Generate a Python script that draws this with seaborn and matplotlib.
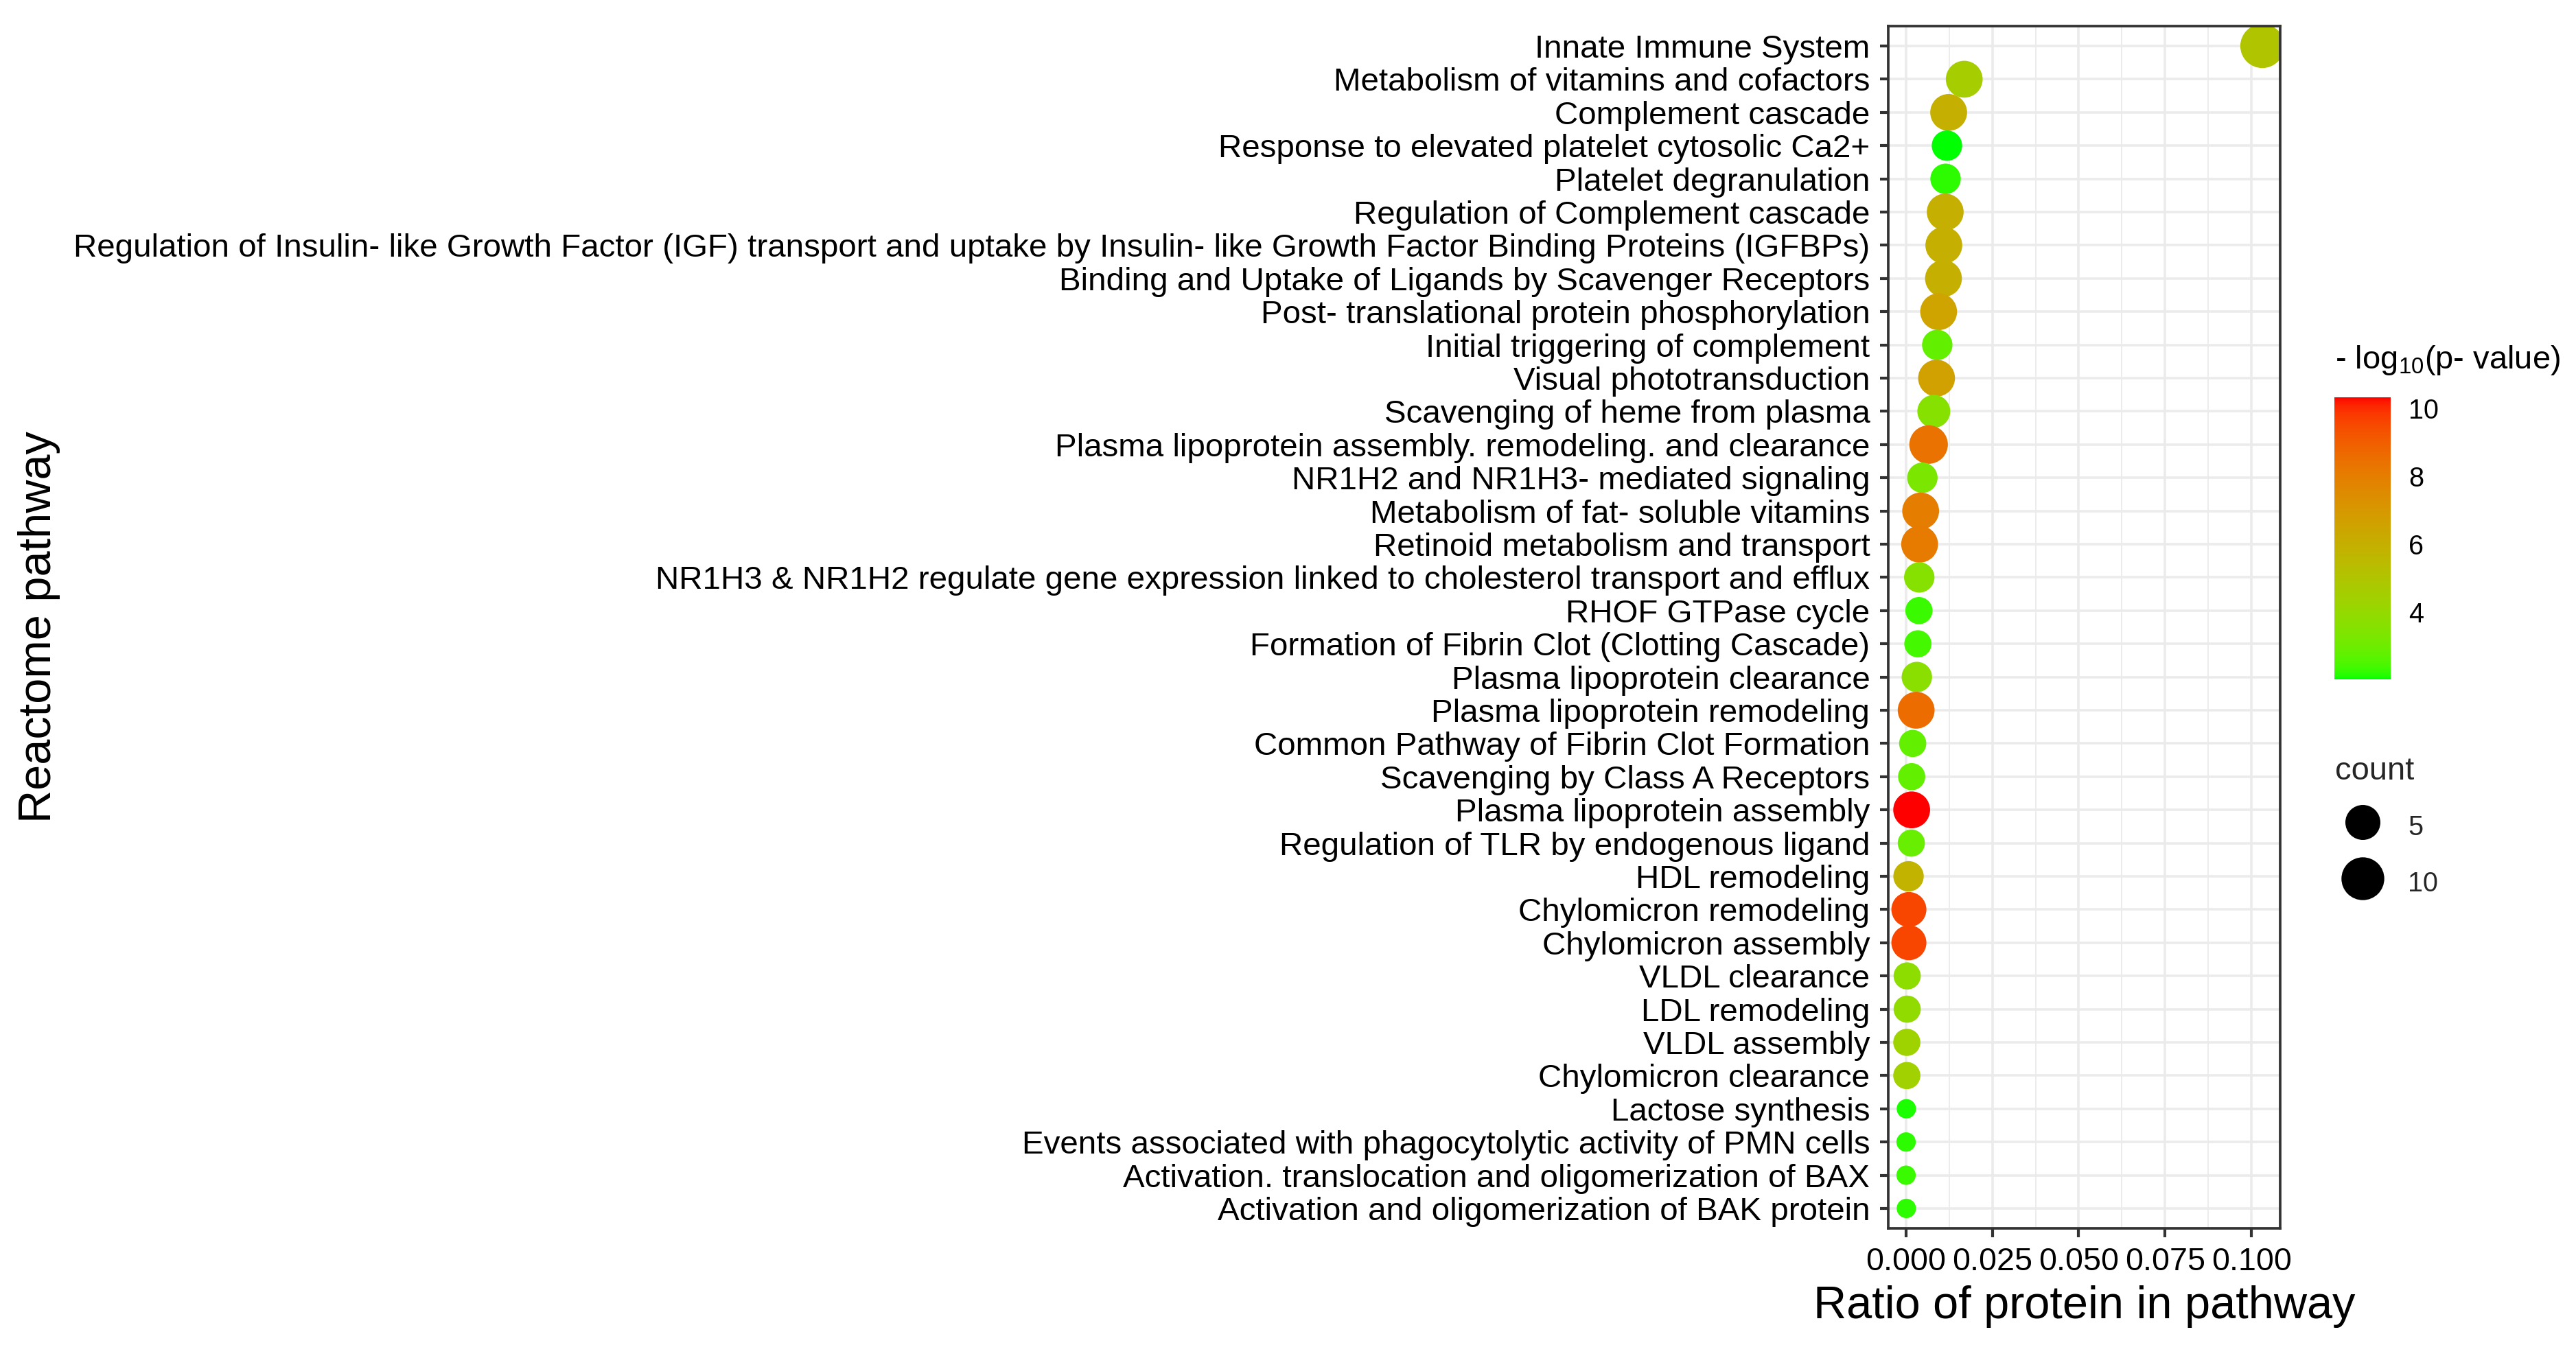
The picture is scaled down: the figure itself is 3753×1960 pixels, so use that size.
import numpy as np
import pandas as pd
import matplotlib
matplotlib.use("Agg")
import matplotlib.pyplot as plt
import seaborn as sns
from matplotlib.colors import ListedColormap, Normalize
from matplotlib.cm import ScalarMappable
from matplotlib.lines import Line2D
from matplotlib.ticker import FixedLocator, MultipleLocator

# ---------------- data ----------------
pathways = [
    "Innate Immune System",
    "Metabolism of vitamins and cofactors",
    "Complement cascade",
    "Response to elevated platelet cytosolic Ca2+",
    "Platelet degranulation",
    "Regulation of Complement cascade",
    "Regulation of Insulin- like Growth Factor (IGF) transport and uptake by Insulin- like Growth Factor Binding Proteins (IGFBPs)",
    "Binding and Uptake of Ligands by Scavenger Receptors",
    "Post- translational protein phosphorylation",
    "Initial triggering of complement",
    "Visual phototransduction",
    "Scavenging of heme from plasma",
    "Plasma lipoprotein assembly. remodeling. and clearance",
    "NR1H2 and NR1H3- mediated signaling",
    "Metabolism of fat- soluble vitamins",
    "Retinoid metabolism and transport",
    "NR1H3 & NR1H2 regulate gene expression linked to cholesterol transport and efflux",
    "RHOF GTPase cycle",
    "Formation of Fibrin Clot (Clotting Cascade)",
    "Plasma lipoprotein clearance",
    "Plasma lipoprotein remodeling",
    "Common Pathway of Fibrin Clot Formation",
    "Scavenging by Class A Receptors",
    "Plasma lipoprotein assembly",
    "Regulation of TLR by endogenous ligand",
    "HDL remodeling",
    "Chylomicron remodeling",
    "Chylomicron assembly",
    "VLDL clearance",
    "LDL remodeling",
    "VLDL assembly",
    "Chylomicron clearance",
    "Lactose synthesis",
    "Events associated with phagocytolytic activity of PMN cells",
    "Activation. translocation and oligomerization of BAX",
    "Activation and oligomerization of BAK protein",
]
ratio = [0.1031, 0.0169, 0.0124, 0.0119, 0.0115, 0.0114, 0.0110, 0.0109,
         0.0095, 0.0091, 0.0089, 0.0081, 0.0066, 0.0048, 0.0043, 0.0040,
         0.0039, 0.0038, 0.0035, 0.0032, 0.0030, 0.0020, 0.0017, 0.0017,
         0.0016, 0.0008, 0.0009, 0.0009, 0.0004, 0.0004, 0.0003, 0.0003,
         0.00016, 0.00008, 0.00008, 0.00016]
neglog10p = [5.0, 4.6, 6.0, 2.02, 2.2, 6.0, 6.0, 6.0,
             6.5, 2.8, 6.6, 3.6, 8.4, 3.3, 8.0, 8.1,
             3.6, 2.3, 2.4, 3.7, 8.6, 2.8, 2.8, 10.32,
             2.9, 5.8, 9.6, 9.6, 3.8, 3.9, 4.3, 4.4,
             2.1, 2.2, 2.3, 2.2]
count = [11, 6, 6, 3, 3, 6, 6, 6,
         6, 3, 6, 4, 7, 3, 6, 6,
         3, 2, 2, 3, 6, 2, 2, 6,
         2, 3, 5, 5, 2, 2, 2, 2,
         1, 1, 1, 1]
colorbar_ticks = [4, 6, 8, 10]
size_breaks = [5, 10]
x_ticks = [0.000, 0.025, 0.050, 0.075, 0.100]

df = pd.DataFrame({"pathway": pathways, "ratio": ratio,
                   "logp": neglog10p, "count": count})

# ---------------- colour scale: green -> red interpolated in CIE Lab ----------------
_M = np.array([[0.4124564, 0.3575761, 0.1804375],
               [0.2126729, 0.7151522, 0.0721750],
               [0.0193339, 0.1191920, 0.9503041]])
_Minv = np.linalg.inv(_M)
_white = _M @ np.ones(3)
_d = 6 / 29


def _lin(c):
    c = np.asarray(c, float)
    return np.where(c <= 0.04045, c / 12.92, ((c + 0.055) / 1.055) ** 2.4)


def _gam(c):
    c = np.clip(c, 0, 1)
    return np.where(c <= 0.0031308, 12.92 * c, 1.055 * np.power(c, 1 / 2.4) - 0.055)


def _f(t):
    return np.where(t > _d ** 3, np.cbrt(t), t / (3 * _d ** 2) + 4 / 29)


def _finv(t):
    return np.where(t > _d, t ** 3, 3 * _d ** 2 * (t - 4 / 29))


def rgb2lab(rgb):
    xyz = _M @ _lin(rgb) / _white
    fx, fy, fz = _f(xyz)
    return np.array([116 * fy - 16, 500 * (fx - fy), 200 * (fy - fz)])


def lab2rgb(lab):
    L, a, b = lab
    fy = (L + 16) / 116
    xyz = np.array([_finv(fy + a / 500), _finv(fy), _finv(fy - b / 200)]) * _white
    return _gam(_Minv @ xyz)


lab_lo = rgb2lab([0, 1, 0])
lab_hi = rgb2lab([1, 0, 0])
tt = np.linspace(0, 1, 256)
cols = np.array([lab2rgb((1 - t) * lab_lo + t * lab_hi) for t in tt])
cmap = ListedColormap(cols)
norm = Normalize(vmin=min(neglog10p), vmax=max(neglog10p))

# ---------------- size scale ----------------
DPI = 300


def radius_px(c):
    cmin, cmax = min(count), max(count)
    return 14.1 + 5.7 * np.sqrt(c - cmin) * np.sqrt(10 / (cmax - cmin))


def diam_pt(c):
    return 2 * radius_px(c) * 72 / DPI


size_map = {c: diam_pt(c) ** 2 for c in sorted(set(count) | set(size_breaks))}

# ---------------- figure ----------------
W, H = 3753, 1960
sns.set_theme(style="white")
plt.rcParams["font.family"] = ["Liberation Sans", "DejaVu Sans"]
plt.rcParams["mathtext.fontset"] = "custom"
plt.rcParams["mathtext.rm"] = "Liberation Sans"

fig = plt.figure(figsize=(W / DPI, H / DPI), dpi=DPI)
fig.patch.set_facecolor("white")
ax = fig.add_axes([2751 / W, 1 - 1790 / H, (3322 - 2751) / W, (1790 - 38) / H])
ax.set_facecolor("white")

sns.scatterplot(data=df, x="ratio", y="pathway", hue="logp", palette=cmap,
                hue_norm=norm, size="count", sizes=size_map, linewidth=0,
                legend=False, ax=ax, zorder=3)

n = len(pathways)
xr = max(ratio) - min(ratio)
ax.set_xlim(min(ratio) - 0.05 * xr, max(ratio) + 0.05 * xr)
ax.set_ylim(n - 1 + 0.6, -0.6)

ax.xaxis.set_major_locator(FixedLocator(x_ticks))
ax.set_xticklabels([f"{v:.3f}" for v in x_ticks])
ax.xaxis.set_minor_locator(MultipleLocator(0.0125))
ax.set_axisbelow(True)
ax.grid(which="major", color="#EBEBEB", linewidth=0.85)
ax.grid(which="minor", axis="x", color="#EBEBEB", linewidth=0.45)
ax.tick_params(which="minor", length=0)
ax.tick_params(which="major", direction="out", length=3.0, width=1.0,
               color="#333333", labelcolor="black", pad=3.4,
               left=True, bottom=True)
ax.tick_params(axis="y", labelsize=11.4)
ax.tick_params(axis="x", labelsize=11.2)
for sp in ax.spines.values():
    sp.set_color("#333333")
    sp.set_linewidth(0.9)
    sp.set_zorder(5)

ax.set_xlabel("Ratio of protein in pathway", fontsize=16, color="black")
ax.set_ylabel("Reactome pathway", fontsize=16, color="black")
ax_w = 3322 - 2751
ax_h = 1790 - 38
ax.xaxis.set_label_coords(0.5, -(1873 - 1790) / ax_h)
ax.yaxis.set_label_coords((88 - 2751) / ax_w, 0.5)

# ---------------- colour legend ----------------
cax = fig.add_axes([3401 / W, 1 - 990 / H, 82 / W, (990 - 579) / H])
cb = fig.colorbar(ScalarMappable(norm=norm, cmap=cmap), cax=cax)
cb.outline.set_visible(False)
cb.set_ticks(colorbar_ticks)
cax.tick_params(direction="in", color="white", width=0.6, length=4.2,
                left=True, right=True, labelleft=False, labelright=True,
                labelsize=9.5, labelcolor="black", pad=6.2)
fig.text(3402 / W, 1 - 525 / H, r"- $\mathregular{log_{10}}$(p- value)",
         ha="left", va="center", fontsize=11.3, color="black")

# ---------------- size legend ----------------
handles = [Line2D([0], [0], marker="o", ls="", color="black",
                  markersize=diam_pt(c), markeredgewidth=0) for c in size_breaks]
fig.legend(handles=handles, labels=[str(c) for c in size_breaks], title="count",
           loc="upper left", bbox_to_anchor=(3402 / W, 1 - 1102 / H),
           frameon=False, fontsize=9.5, title_fontsize=11.3, alignment="left",
           handlelength=2.0, handleheight=1.5, handletextpad=0.68,
           labelspacing=0.85, borderpad=0, borderaxespad=0)

fig.savefig("out.png", dpi=DPI, facecolor="white")
